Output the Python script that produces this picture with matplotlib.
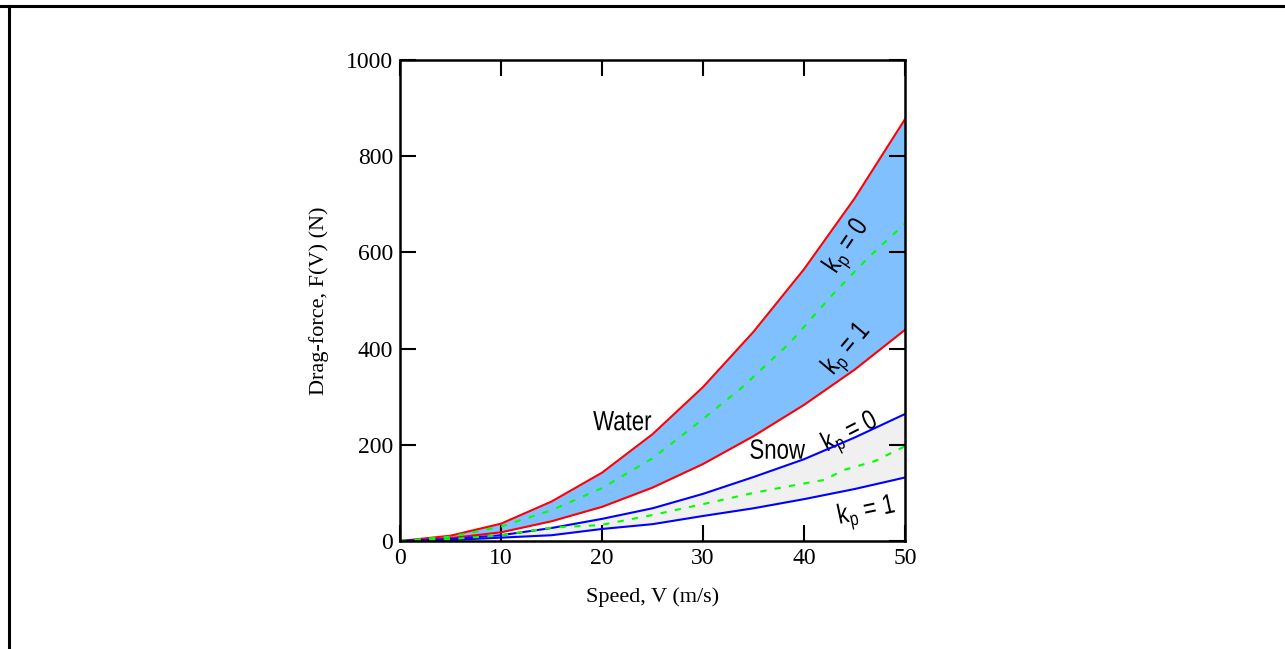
import matplotlib
matplotlib.use("Agg")
import matplotlib.pyplot as plt
from matplotlib.lines import Line2D
from matplotlib.textpath import TextPath
from matplotlib.patches import PathPatch
from matplotlib.font_manager import FontProperties
from matplotlib.transforms import Affine2D, ScaledTranslation

# -----------------------------
# Data
# -----------------------------
speed = [0, 5, 10, 15, 20, 25, 30, 35, 40, 45, 50]

water_kp0 = [0, 11, 36, 82, 142, 222, 320, 435, 565, 712, 877]
water_kp1 = [0, 6, 18, 41, 71, 111, 160, 218, 283, 356, 439]

snow_kp0 = [0, 4, 12, 27, 46, 68, 98, 133, 170, 215, 264]
snow_kp1 = [0, 2, 7, 12, 25, 35, 52, 68, 87, 108, 132]

# green dashed mid curves (finer, slightly wiggly)
water_mid_v = [0, 5, 10, 15, 20, 25, 29, 33.8, 38.6, 42.6, 46.3, 50]
water_mid_f = [0, 9, 30, 64, 110, 172, 237, 318, 412, 507, 588, 660]

snow_mid_v = [0, 5, 10, 15, 19.8, 25, 30.5, 35, 38, 42, 44, 47, 50]
snow_mid_f = [0, 4, 12, 28, 33, 54, 79, 100, 112, 127, 148, 166, 197]

xticks = [0, 10, 20, 30, 40, 50]
yticks = [0, 200, 400, 600, 800, 1000]

serif = ["Liberation Serif", "DejaVu Serif"]
plt.rcParams["mathtext.default"] = "regular"

# -----------------------------
# Figure
# -----------------------------
fig = plt.figure(figsize=(12.85, 6.49), dpi=100)
ax = fig.add_axes([400 / 1285, 1 - 541 / 649, 505 / 1285, 481 / 649])

ax.fill_between(speed, water_kp1, water_kp0, color="#80c0ff", lw=0)
ax.fill_between(speed, snow_kp1, snow_kp0, color="#f0f0f0", lw=0)

ax.plot(speed, water_kp0, color="#ff0000", lw=1.5)
ax.plot(speed, water_kp1, color="#ff0000", lw=1.5)
ax.plot(speed, snow_kp0, color="#0000ff", lw=1.5)
ax.plot(speed, snow_kp1, color="#0000ff", lw=1.5)
ax.plot(water_mid_v, water_mid_f, color="#00ff00", lw=1.5, ls=(0, (3, 4)))
ax.plot(snow_mid_v, snow_mid_f, color="#00ff00", lw=1.5, ls=(0, (3, 4)))

ax.set_xlim(0, 50)
ax.set_ylim(0, 1000)
ax.set_xticks(xticks)
ax.set_yticks(yticks)
ax.tick_params(direction="in", length=11.5, width=1.5, top=True, right=True,
               labelsize=17, pad=5)
for lab in ax.get_xticklabels() + ax.get_yticklabels():
    lab.set_family(serif)
for s in ax.spines.values():
    s.set_linewidth(1.8)

ax.set_xlabel("Speed, V (m/s)", family=serif, fontsize=16, labelpad=13)
ax.set_ylabel("Drag-force, F(V) (N)", family=serif, fontsize=16, labelpad=12)


# -----------------------------
# Annotations: condensed sans text drawn as paths
# -----------------------------
def narrow_text(x, y, s, size=20, rot=0, squeeze=0.8):
    tp = TextPath((0, 0), s, size=size, prop=FontProperties(family="Liberation Sans"))
    bb = tp.get_extents()
    cx, cy = (bb.x0 + bb.x1) / 2, (bb.y0 + bb.y1) / 2
    k = fig.dpi / 72
    tr = (Affine2D().translate(-cx, -cy).scale(squeeze * k, k).rotate_deg(rot)
          + ScaledTranslation(x, y, ax.transData))
    ax.add_artist(PathPatch(tp, transform=tr, color="black", lw=0))


narrow_text(22, 250, "Water")
narrow_text(37.4, 191, "Snow")
narrow_text(44.3, 612, r"k$_\mathregular{p}$ = 0", rot=56)
narrow_text(44.3, 398, r"k$_\mathregular{p}$ = 1", rot=50)
narrow_text(44.6, 224, r"k$_\mathregular{p}$ = 0", rot=27)
narrow_text(46.2, 60, r"k$_\mathregular{p}$ = 1", rot=12)

# frame lines on top and left edge of the picture
fig.add_artist(Line2D([0, 1], [1 - 6 / 649] * 2, transform=fig.transFigure,
                      color="black", lw=2.2))
fig.add_artist(Line2D([9 / 1285] * 2, [0, 1 - 6 / 649], transform=fig.transFigure,
                      color="black", lw=2.2))

fig.savefig("out.png", dpi=100)
